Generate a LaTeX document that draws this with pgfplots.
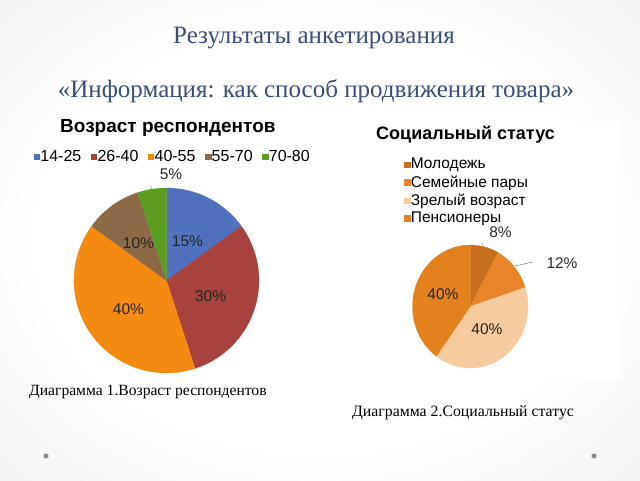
\documentclass[border=0pt]{standalone}
\usepackage{fontspec}
\setmainfont{Liberation Serif}
\newfontfamily\arial{Liberation Sans}
\usepackage{pgfplots}
\pgfplotsset{compat=1.18}
\definecolor{titlec}{HTML}{3A4E7E}
\definecolor{cblue}{HTML}{5170BE}
\definecolor{cred}{HTML}{A8423F}
\definecolor{corange}{HTML}{F38A12}
\definecolor{cbrown}{HTML}{8C6A47}
\definecolor{cgreen}{HTML}{5C9E22}
\definecolor{sdark}{HTML}{C8701F}
\definecolor{smid}{HTML}{E8852A}
\definecolor{slight}{HTML}{F8CB9F}
\definecolor{sorange}{HTML}{E3811F}
\pgfdeclareradialshading{slidebg}{\pgfpoint{0bp}{0bp}}{color(0bp)=(white); color(22bp)=(white); color(50bp)=(black!9); color(72bp)=(black!17)}
\tikzset{pct/.style={font=\arial\fontsize{15.5}{15.5}\selectfont, text=black!85}}
% #1 start (percent), #2 value (percent), #3 colour
\newcommand{\pieslice}[3]{%
  \pgfmathsetmacro\sa{90-3.6*(#1+#2)}%
  \pgfmathsetmacro\sb{90-3.6*#1}%
  \addplot[fill=#3, draw=#3, line width=0.2pt, domain=\sa:\sb, samples=60]
    ({cos(x)},{sin(x)}) -- (axis cs:0,0) -- cycle;}
\begin{document}
\begin{tikzpicture}
\useasboundingbox (0,0) rectangle (640pt,480pt);
\shade[shading=slidebg] (0,0) rectangle (640pt,480pt);
\fill[white] (360pt,101pt) rectangle (621pt,358pt);
\fill[black!45] (46pt,24pt) circle (2.6pt);
\fill[black!45] (594pt,24pt) circle (2.6pt);
\node[anchor=base, text=titlec, font=\fontsize{25}{25}\selectfont, inner sep=0pt] at (314pt,436pt) {Результаты анкетирования};
\node[anchor=base, text=titlec, font=\fontsize{25}{25}\selectfont, inner sep=0pt] at (316pt,382pt) {«Информация: как способ продвижения товара»};
\node[anchor=base west, font=\arial\bfseries\fontsize{19}{19}\selectfont, inner sep=0pt] at (60pt,347pt) {Возраст респондентов};
\node[anchor=base west, font=\arial\bfseries\fontsize{18}{18}\selectfont, inner sep=0pt] at (376pt,340pt) {Социальный статус};
\node[anchor=base west, font=\fontsize{15.6}{15.6}\selectfont, inner sep=0pt] at (29pt,85pt) {Диаграмма 1.Возраст респондентов};
\node[anchor=base west, font=\fontsize{15.8}{15.8}\selectfont, inner sep=0pt] at (352pt,64pt) {Диаграмма 2.Социальный статус};

\begin{axis}[at={(166.5pt,199.5pt)}, anchor=center, scale only axis,
  width=185pt, height=185pt, xmin=-1, xmax=1, ymin=-1, ymax=1,
  hide axis, clip=false,
  legend columns=5,
  legend image code/.code={\fill[#1] (0pt,-2.6pt) rectangle (5.5pt,2.6pt);},
  legend style={at={(0.531,1.170)}, anchor=center, draw=none, fill=none,
    font=\arial\fontsize{16}{16}\selectfont, inner sep=0pt,
    nodes={inner sep=1pt},
    /tikz/every even column/.append style={column sep=8.5pt}},
  legend entries={14-25,26-40,40-55,55-70,70-80}]
\pieslice{0}{15}{cblue}
\pieslice{15}{30}{cred}
\pieslice{45}{40}{corange}
\pieslice{85}{10}{cbrown}
\pieslice{95}{5}{cgreen}
\node[pct] at (axis cs:0.227,0.427) {15\%};
\node[pct] at (axis cs:0.476,-0.173) {30\%};
\node[pct] at (axis cs:-0.411,-0.308) {40\%};
\node[pct] at (axis cs:-0.303,0.40) {10\%};
\node[pct] at (axis cs:0.049,1.151) {5\%};
\draw[black!60, line width=0.4pt] (axis cs:-0.173,1.022) -- (axis cs:-0.157,0.979);
\end{axis}

\begin{axis}[at={(470.25pt,173.5pt)}, anchor=center, scale only axis,
  width=115.5pt, height=123pt, xmin=-1, xmax=1, ymin=-1, ymax=1,
  hide axis, clip=false,
  legend columns=1, legend cell align=left,
  legend image code/.code={\fill[#1] (0pt,-2.6pt) rectangle (5.5pt,2.6pt);},
  legend style={at={(-0.074,1.715)}, anchor=north west, draw=none, fill=none,
    font=\arial\fontsize{15.5}{15.5}\selectfont, inner sep=0pt,
    nodes={inner sep=1pt}, row sep=3.2pt},
  legend entries={Молодежь,Семейные пары,Зрелый возраст,Пенсионеры}]
\pieslice{0}{8}{sdark}
\pieslice{8}{12}{smid}
\pieslice{20}{40}{slight}
\pieslice{60}{40}{sorange}
\node[pct] at (axis cs:0.524,1.203) {8\%};
\node[pct] at (axis cs:1.589,0.707) {12\%};
\node[pct] at (axis cs:-0.472,0.195) {40\%};
\node[pct] at (axis cs:0.290,-0.366) {40\%};
\draw[black!60, line width=0.4pt] (axis cs:0.203,1.033) -- (axis cs:0.238,0.951);
\draw[black!60, line width=0.4pt] (axis cs:1.087,0.724) -- (axis cs:0.775,0.659);
\end{axis}
\end{tikzpicture}
\end{document}
